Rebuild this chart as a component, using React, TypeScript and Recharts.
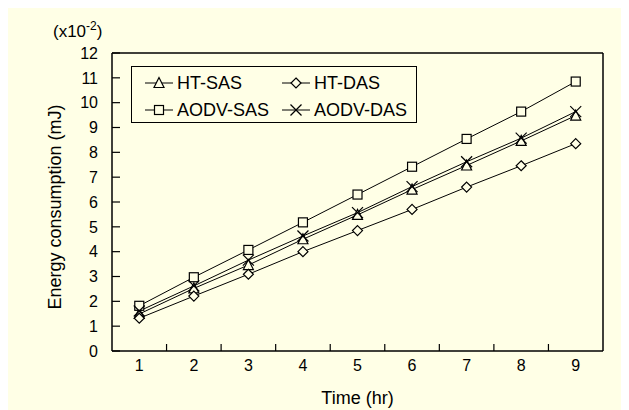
import React from 'react'
import { LineChart, Line, XAxis, YAxis, Legend } from 'recharts'

const hours = [1, 2, 3, 4, 5, 6, 7, 8, 9]
const htSas = [1.49, 2.52, 3.46, 4.5, 5.48, 6.5, 7.47, 8.46, 9.48]
const htDas = [1.32, 2.21, 3.09, 4.0, 4.85, 5.7, 6.6, 7.46, 8.35]
const aodvSas = [1.82, 2.97, 4.07, 5.18, 6.3, 7.42, 8.54, 9.64, 10.85]
const aodvDas = [1.61, 2.62, 3.66, 4.63, 5.57, 6.62, 7.62, 8.57, 9.64]
const yTicks = [0, 1, 2, 3, 4, 5, 6, 7, 8, 9, 10, 11, 12]

const BG = '#FFFFE6'
const FONT = 'Arial, "Liberation Sans", sans-serif'

if (typeof document !== 'undefined') document.body.style.overflow = 'hidden'

const data = hours.map((h, i) => ({
  hour: h,
  htSas: htSas[i],
  htDas: htDas[i],
  aodvSas: aodvSas[i],
  aodvDas: aodvDas[i],
}))

type Shape = 'triangle' | 'diamond' | 'square' | 'cross'

function Marker({ cx, cy, shape }: { cx: number; cy: number; shape: Shape }) {
  const s = { stroke: '#000', strokeWidth: 1.2, fill: BG }
  if (shape === 'triangle')
    return <polygon points={`${cx},${cy - 5.5} ${cx - 5},${cy + 4.5} ${cx + 5},${cy + 4.5}`} {...s} />
  if (shape === 'diamond')
    return <polygon points={`${cx},${cy - 5} ${cx + 5},${cy} ${cx},${cy + 5} ${cx - 5},${cy}`} {...s} />
  if (shape === 'square') return <rect x={cx - 4.5} y={cy - 4.5} width={9} height={9} {...s} />
  return (
    <g stroke="#000" strokeWidth={1.2}>
      <line x1={cx - 5.5} y1={cy - 5.5} x2={cx + 5.5} y2={cy + 5.5} />
      <line x1={cx - 5.5} y1={cy + 5.5} x2={cx + 5.5} y2={cy - 5.5} />
    </g>
  )
}

const dotOf = (shape: Shape) => (p: any) =>
  <Marker key={`${shape}-${p.index}`} cx={p.cx} cy={p.cy} shape={shape} />

const series: { key: string; name: string; shape: Shape }[] = [
  { key: 'htSas', name: 'HT-SAS', shape: 'triangle' },
  { key: 'htDas', name: 'HT-DAS', shape: 'diamond' },
  { key: 'aodvSas', name: 'AODV-SAS', shape: 'square' },
  { key: 'aodvDas', name: 'AODV-DAS', shape: 'cross' },
]

function LegendBox() {
  const item = (sr: typeof series[number], left: number, top: number) => (
    <div key={sr.key} style={{ position: 'absolute', left, top, height: 20, display: 'flex', alignItems: 'center' }}>
      <svg width={28} height={14} style={{ marginRight: 4 }}>
        <line x1={0} y1={7} x2={28} y2={7} stroke="#000" strokeWidth={1} />
        <Marker cx={14} cy={7} shape={sr.shape} />
      </svg>
      <span style={{ fontSize: 18, color: '#000', whiteSpace: 'nowrap' }}>{sr.name}</span>
    </div>
  )
  return (
    <div style={{ position: 'relative', width: 286, height: 57, border: '1px solid #000', boxSizing: 'border-box', fontFamily: FONT }}>
      {item(series[0], 13, 6)}
      {item(series[1], 150, 6)}
      {item(series[2], 13, 33)}
      {item(series[3], 150, 33)}
    </div>
  )
}

const YLabel = (props: any) => {
  const vb = props.viewBox
  const cx = vb.x + 3
  const cy = vb.y + vb.height / 2 + 5
  return (
    <g fontFamily={FONT} fill="#000">
      <text x={cx} y={cy} transform={`rotate(-90 ${cx} ${cy})`} textAnchor="middle" dominantBaseline="central" fontSize={18}>
        Energy consumption (mJ)
      </text>
      <text x={vb.x + 1} y={vb.y - 16} fontSize={17}>
        (x10<tspan dy={-7} fontSize={12}>-2</tspan><tspan dy={7}>)</tspan>
      </text>
    </g>
  )
}

export default function App() {
  const axisStroke = { stroke: '#000', strokeWidth: 1.5 }
  const tickStyle = { fill: '#000', fontSize: 16, fontFamily: FONT }
  return (
    <div style={{ width: 621, height: 402, background: BG }}>
      <LineChart width={621} height={402} data={data} margin={{ top: 44, right: 25, bottom: 0, left: 44 }}>
        <XAxis
          xAxisId="axisA"
          type="number"
          dataKey="hour"
          domain={[0.5, 9.5]}
          ticks={hours.slice(1).map((h) => h - 0.5)}
          tickFormatter={() => ''}
          height={1}
          tickSize={-7}
          axisLine={axisStroke}
          tickLine={{ stroke: '#000', strokeWidth: 1.2 }}
        />
        <XAxis
          xAxisId="axisB"
          type="number"
          dataKey="hour"
          domain={[0.5, 9.5]}
          ticks={hours}
          height={58}
          tickSize={0}
          tickMargin={8}
          axisLine={false}
          tickLine={false}
          tick={tickStyle}
          label={{ value: 'Time (hr)', position: 'insideBottom', offset: 6, fill: '#000', fontSize: 18, fontFamily: FONT }}
        />
        <XAxis xAxisId="top" orientation="top" type="number" domain={[0.5, 9.5]} ticks={hours} height={1} tick={false} tickLine={false} axisLine={axisStroke} />
        <YAxis
          yAxisId="left"
          domain={[0, 12]}
          ticks={yTicks}
          width={60}
          tickSize={-8}
          tickMargin={22}
          axisLine={axisStroke}
          tickLine={{ stroke: '#000', strokeWidth: 1.2 }}
          tick={tickStyle}
          label={YLabel}
        />
        <YAxis yAxisId="right" orientation="right" domain={[0, 12]} ticks={yTicks} width={1} tick={false} tickLine={false} axisLine={axisStroke} />
        <Legend
          verticalAlign="middle"
          layout="horizontal"
          content={() => <LegendBox />}
          wrapperStyle={{ position: 'absolute', left: 123, top: 58, width: 286, height: 57 }}
        />
        {series.map((sr) => (
          <Line
            key={sr.key}
            xAxisId="axisB"
            yAxisId="left"
            dataKey={sr.key}
            name={sr.name}
            stroke="#000"
            strokeWidth={1}
            dot={dotOf(sr.shape)}
            isAnimationActive={false}
          />
        ))}
      </LineChart>
    </div>
  )
}
